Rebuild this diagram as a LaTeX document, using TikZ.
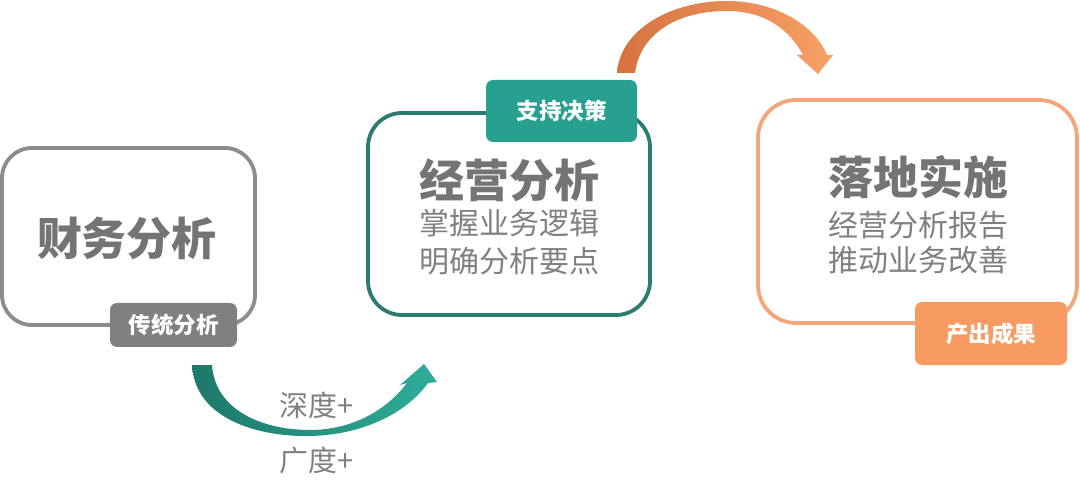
\documentclass[tikz,border=0pt]{standalone}
\usepackage{fontspec}
\setmainfont{Noto Sans CJK SC}
\definecolor{graybox}{HTML}{8C8C8C}
\definecolor{graylab}{HTML}{808080}
\definecolor{tealbox}{HTML}{2B7B70}
\definecolor{teallab}{HTML}{27A090}
\definecolor{orgbox}{HTML}{F2A679}
\definecolor{orglab}{HTML}{F79B63}
\definecolor{titletext}{HTML}{747474}
\definecolor{linetext}{HTML}{808080}
\definecolor{tealL}{HTML}{1D786A}
\definecolor{tealR}{HTML}{2EAD9A}
\definecolor{orgL}{HTML}{D5733F}
\definecolor{orgR}{HTML}{F8A166}
\tikzset{
  bigbox/.style={draw, line width=3.8pt, fill=white, inner sep=0pt},
  tagbox/.style={rounded corners=7pt, inner sep=0pt, text=white, font=\fontsize{22.5}{24}\selectfont\bfseries},
  titletxt/.style={text=titletext, inner sep=0pt, font=\fontsize{45}{50}\selectfont\bfseries},
  linetxt/.style={text=linetext, inner sep=0pt, font=\fontsize{30}{34}\selectfont},
  plustxt/.style={text=linetext, inner sep=0pt, font=\fontsize{29}{32}\selectfont},
}
\begin{document}
\begin{tikzpicture}[x=1pt,y=-1pt]
\useasboundingbox (0,0) rectangle (1080,497);
% boxes
\node[bigbox, draw=graybox, rounded corners=30pt, minimum width=253pt, minimum height=177pt] (b1) at (128.5,236.5) {};
\node[bigbox, draw=tealbox, rounded corners=34pt, minimum width=282pt, minimum height=202pt] (b2) at (509,214) {};
\node[bigbox, draw=orgbox, rounded corners=38pt, minimum width=319pt, minimum height=223pt] (b3) at (917.5,211.5) {};
% tags
\node[tagbox, fill=graylab, minimum width=127pt, minimum height=44pt] (l1) at (173.5,325) {传统分析};
\node[tagbox, fill=teallab, minimum width=151pt, minimum height=62pt] (l2) at (561.5,111) {支持决策};
\node[tagbox, fill=orglab, minimum width=152pt, minimum height=63pt] (l3) at (991,333.5) {产出成果};
% texts
\node[titletxt] (t1) at (127,238) {财务分析};
\node[titletxt] (t2) at (509,180) {经营分析};
\node[linetxt] (t2a) at (509,223) {掌握业务逻辑};
\node[linetxt] (t2b) at (509,261) {明确分析要点};
\node[titletxt] (t3) at (918,177) {落地实施};
\node[linetxt] (t3a) at (918,225) {经营分析报告};
\node[linetxt] (t3b) at (918,260) {推动业务改善};
% curved arrows
\shade[left color=tealL, right color=tealR]
  (192,365) .. controls (195,420) and (260,437) .. (310,436)
  .. controls (360,435) and (405,415) .. (428,383)
  -- (437,382) -- (424,364) -- (400,385) -- (407,383)
  .. controls (385,412) and (350,430) .. (310,430)
  .. controls (262,430) and (215,410) .. (212,365) -- cycle;
\shade[left color=orgL, right color=orgR]
  (617,73) .. controls (620,30) and (670,1) .. (727,1)
  .. controls (775,1) and (815,25) .. (827,55)
  -- (833,55) -- (818,74) -- (797,55) -- (803,55)
  .. controls (790,30) and (765,11) .. (727,11)
  .. controls (675,11) and (640,35) .. (635,73) -- cycle;
\node[plustxt] (p1) at (317,405) {深度+};
\node[plustxt] (p2) at (317,461) {广度+};
\end{tikzpicture}
\end{document}
